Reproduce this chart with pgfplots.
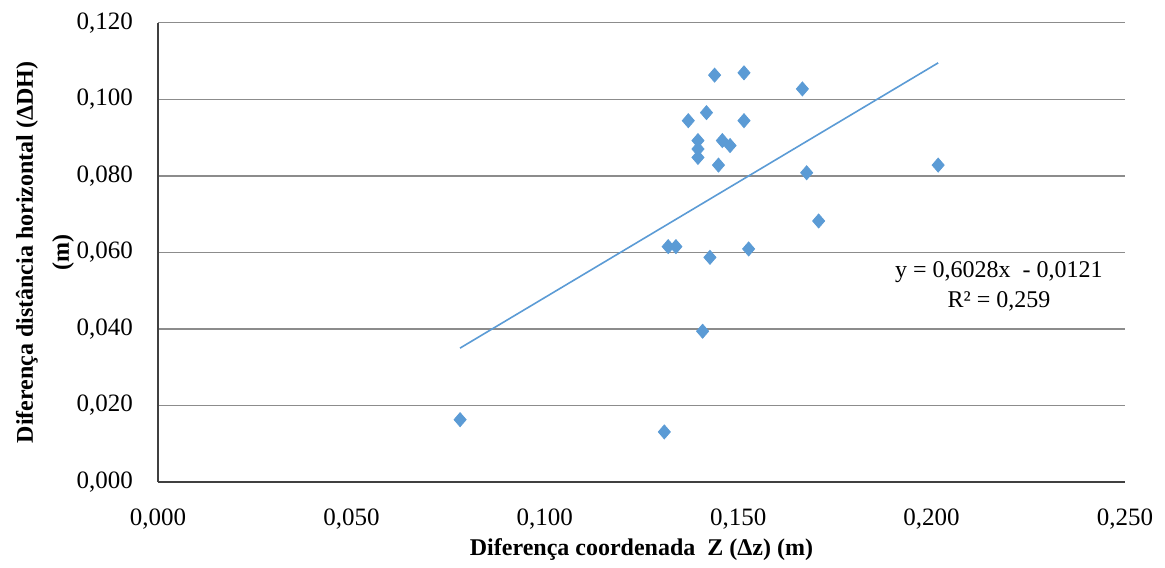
\documentclass[border=0pt]{standalone}
\usepackage{fontspec}
\setmainfont{Liberation Serif}
\usepackage{pgfplots}
\pgfplotsset{compat=1.18}
\definecolor{ptblue}{HTML}{5B9BD5}
\definecolor{gridgray}{HTML}{8C8C8C}
\definecolor{axgray}{HTML}{404040}
\begin{document}
\begin{tikzpicture}
\begin{axis}[
  scale only axis,
  width=483.5pt, height=229.7pt,
  xmin=0, xmax=0.25, ymin=0, ymax=0.12,
  xtick={0,0.05,...,0.25}, ytick={0,0.02,...,0.12},
  axis x line*=bottom, axis y line*=left,
  axis line style={axgray, line width=0.7pt, -},
  major tick length=0pt,
  ymajorgrids=true,
  grid style={gridgray, line width=0.7pt},
  tick label style={font=\fontsize{12.5}{14}\selectfont},
  /pgf/number format/assume math mode=true,
  /pgf/number format/.cd, fixed, fixed zerofill, precision=3, use comma,
  /pgfplots/.cd,
  scaled ticks=false,
  xticklabel style={yshift=-10pt},
  yticklabel style={xshift=-9pt},
  xlabel={Diferença coordenada\ \ Z (Δz) (m)},
  ylabel={Diferença distância horizontal (ΔDH)\\(m)},
  xlabel style={font=\fontsize{12}{14}\selectfont\bfseries, at={(rel axis cs:0.5,-0.148)}, anchor=center},
  ylabel style={font=\fontsize{12}{18}\selectfont\bfseries, align=center, at={(rel axis cs:-0.117,0.5)}, anchor=center},
  clip=false,
]
\path (rel axis cs:-0.1634,-0.1764) rectangle (rel axis cs:1.0414,1.0494);

\addplot[only marks, mark=diamond*, mark size=3.5pt, mark options={xscale=1.15}, color=ptblue] coordinates {
  (0.0781,0.0163) (0.1309,0.0131) (0.1319,0.0615) (0.1339,0.0615)
  (0.1427,0.0587) (0.1408,0.0394) (0.1439,0.1063) (0.1515,0.1069)
  (0.1666,0.1027) (0.1371,0.0944) (0.1418,0.0965) (0.1515,0.0944)
  (0.1396,0.0892) (0.1396,0.0870) (0.1396,0.0848) (0.1459,0.0892)
  (0.1479,0.0879) (0.1449,0.0828) (0.1677,0.0808) (0.2017,0.0828)
  (0.1708,0.0682) (0.1527,0.0609)
};

\addplot[color=ptblue, line width=0.8pt, no marks] coordinates {
  (0.0781,0.0350) (0.2017,0.1095)
};

\node[align=center, font=\fontsize{12}{15}\selectfont] at (rel axis cs:0.8697,0.427)
  {y = 0,6028x\ \ - 0,0121\\R² = 0,259};
\end{axis}
\end{tikzpicture}
\end{document}
